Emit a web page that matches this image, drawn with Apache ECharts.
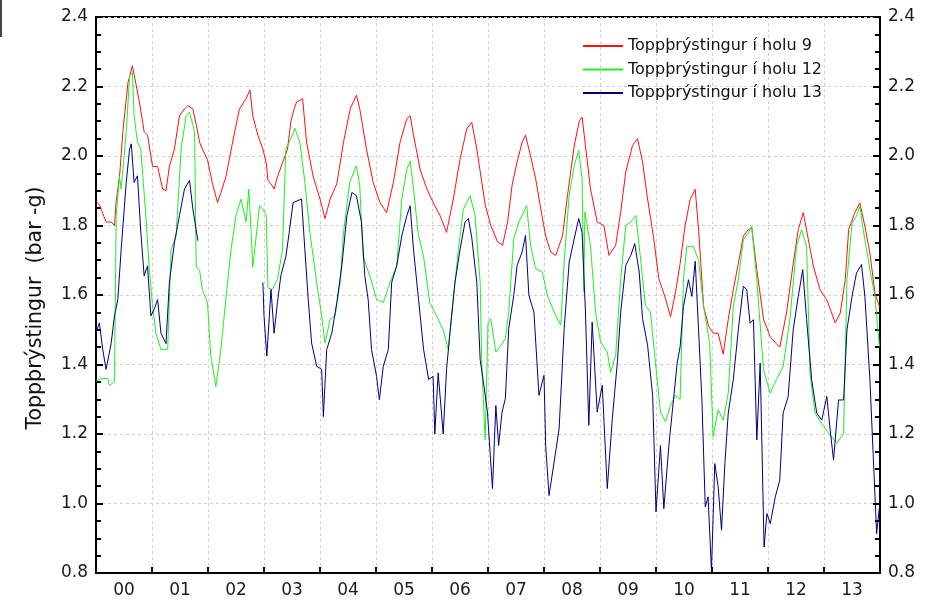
<!DOCTYPE html>
<html>
<head>
<meta charset="utf-8">
<script src="https://cdn.jsdelivr.net/npm/echarts@6/dist/echarts.min.js"></script>
<style>html,body{margin:0;padding:0;background:#fff}#c{width:936px;height:600px}</style>
</head>
<body>
<div id="c"></div>
<script>
// Time in years since start of 2000
const years = ["00","01","02","03","04","05","06","07","08","09","10","11","12","13"];
const yTicks = [0.8, 1.0, 1.2, 1.4, 1.6, 1.8, 2.0, 2.2, 2.4];
const seriesNames = ["Toppþrýstingur í holu 9", "Toppþrýstingur í holu 12", "Toppþrýstingur í holu 13"];

const redT = [0,0.06,0.18,0.27,0.33,0.36,0.42,0.48,0.57,0.65,0.71,0.77,0.86,0.92,1.01,1.10,1.19,1.25,1.31,1.40,1.49,1.58,1.64,1.73,1.79,1.85,1.90,1.99,2.08,2.17,2.23,2.32,2.44,2.56,2.68,2.75,2.80,2.89,2.98,3.04,3.07,3.125,3.18,3.24,3.33,3.42,3.48,3.54,3.58,3.64,3.69,3.76,3.88,4.00,4.09,4.18,4.30,4.42,4.54,4.65,4.71,4.83,4.95,5.07,5.19,5.31,5.43,5.55,5.61,5.67,5.79,5.91,6.02,6.14,6.26,6.38,6.50,6.62,6.71,6.80,6.89,6.95,7.05,7.17,7.26,7.35,7.43,7.52,7.61,7.67,7.76,7.85,7.94,8.03,8.12,8.21,8.33,8.42,8.54,8.63,8.68,8.74,8.83,8.95,9.07,9.16,9.28,9.37,9.46,9.58,9.67,9.76,9.84,9.96,10.05,10.17,10.26,10.35,10.43,10.52,10.61,10.70,10.76,10.85,10.94,11.02,11.11,11.20,11.29,11.38,11.47,11.56,11.65,11.71,11.80,11.92,12.04,12.15,12.21,12.33,12.45,12.54,12.63,12.72,12.81,12.93,13.05,13.20,13.29,13.38,13.44,13.55,13.64,13.73,13.82,13.91,13.99];
const redV = [1.87,1.86,1.81,1.81,1.80,1.87,1.94,2.07,2.21,2.26,2.21,2.16,2.07,2.06,1.97,1.97,1.905,1.90,1.97,2.02,2.115,2.135,2.145,2.135,2.09,2.04,2.02,1.99,1.92,1.866,1.895,1.94,2.04,2.135,2.165,2.19,2.115,2.06,2.02,1.98,1.93,1.92,1.905,1.94,1.98,2.02,2.10,2.136,2.155,2.16,2.165,2.04,1.94,1.876,1.82,1.876,1.92,2.04,2.136,2.175,2.136,2.02,1.924,1.866,1.837,1.924,2.04,2.107,2.116,2.06,1.96,1.905,1.866,1.83,1.78,1.876,1.99,2.078,2.097,2.02,1.924,1.86,1.80,1.753,1.743,1.81,1.916,1.983,2.04,2.06,2.0,1.935,1.85,1.77,1.724,1.714,1.77,1.887,2.03,2.10,2.112,2.03,1.906,1.81,1.80,1.714,1.743,1.84,1.954,2.03,2.05,1.983,1.887,1.762,1.647,1.59,1.537,1.61,1.69,1.80,1.875,1.904,1.79,1.567,1.51,1.49,1.49,1.43,1.53,1.615,1.69,1.77,1.788,1.793,1.673,1.53,1.48,1.46,1.45,1.548,1.69,1.788,1.837,1.76,1.683,1.615,1.586,1.52,1.548,1.644,1.788,1.837,1.865,1.798,1.72,1.606,1.567];

const greenT = [0,0.10,0.21,0.24,0.33,0.36,0.42,0.45,0.54,0.60,0.65,0.68,0.74,0.80,0.89,0.95,1.01,1.07,1.16,1.28,1.34,1.43,1.52,1.61,1.67,1.76,1.79,1.85,1.90,1.99,2.05,2.14,2.23,2.32,2.41,2.50,2.59,2.68,2.73,2.80,2.92,2.98,3.04,3.07,3.15,3.24,3.33,3.39,3.51,3.55,3.64,3.73,3.82,3.94,4.03,4.09,4.18,4.27,4.36,4.42,4.53,4.65,4.71,4.77,4.89,5.01,5.13,5.25,5.37,5.46,5.55,5.61,5.67,5.75,5.85,5.96,6.08,6.20,6.29,6.38,6.47,6.56,6.68,6.77,6.86,6.89,6.95,7.00,7.05,7.14,7.23,7.31,7.37,7.46,7.55,7.64,7.69,7.76,7.85,7.97,8.06,8.18,8.30,8.36,8.45,8.54,8.62,8.68,8.71,8.73,8.83,8.92,9.01,9.13,9.19,9.28,9.37,9.46,9.55,9.64,9.73,9.81,9.90,9.99,10.08,10.17,10.26,10.35,10.43,10.49,10.55,10.67,10.76,10.85,10.96,11.02,11.11,11.20,11.29,11.38,11.47,11.56,11.65,11.71,11.80,11.92,12.04,12.15,12.27,12.39,12.51,12.60,12.69,12.75,12.84,12.96,13.08,13.23,13.35,13.41,13.50,13.58,13.64,13.70,13.82,13.91,13.99];
const greenV = [1.352,1.36,1.36,1.34,1.35,1.83,1.94,1.905,2.07,2.23,2.24,2.116,2.04,2.02,1.828,1.68,1.568,1.49,1.443,1.443,1.73,1.77,2.02,2.116,2.126,2.07,1.68,1.67,1.616,1.578,1.424,1.337,1.443,1.59,1.73,1.828,1.876,1.81,1.905,1.68,1.857,1.847,1.83,1.62,1.616,1.645,1.73,2.02,2.06,2.08,2.04,1.924,1.78,1.636,1.54,1.462,1.53,1.54,1.636,1.78,1.924,1.972,1.914,1.71,1.655,1.588,1.578,1.636,1.684,1.876,1.962,1.986,1.905,1.78,1.71,1.578,1.54,1.50,1.443,1.588,1.73,1.847,1.886,1.828,1.636,1.395,1.184,1.52,1.532,1.436,1.455,1.474,1.551,1.762,1.81,1.839,1.858,1.743,1.676,1.666,1.599,1.551,1.513,1.695,1.887,1.973,2.016,1.935,1.609,1.839,1.743,1.551,1.465,1.436,1.378,1.426,1.647,1.80,1.81,1.829,1.695,1.57,1.551,1.407,1.263,1.235,1.283,1.311,1.30,1.644,1.74,1.74,1.70,1.567,1.46,1.192,1.27,1.24,1.317,1.567,1.644,1.76,1.779,1.798,1.644,1.385,1.317,1.356,1.394,1.529,1.74,1.788,1.74,1.375,1.26,1.23,1.202,1.173,1.202,1.644,1.808,1.827,1.856,1.788,1.673,1.596,1.452];

const blueT = [0,0.06,0.12,0.18,0.27,0.33,0.39,0.45,0.54,0.60,0.63,0.68,0.74,0.80,0.86,0.92,0.98,1.04,1.10,1.16,1.25,1.31,1.40,1.49,1.58,1.67,1.73,1.82,2.40,2.98,3.00,3.05,3.125,3.18,3.24,3.30,3.39,3.45,3.52,3.67,3.73,3.79,3.85,3.94,4.03,4.06,4.12,4.21,4.30,4.39,4.48,4.57,4.65,4.74,4.80,4.86,4.92,5.01,5.06,5.13,5.22,5.28,5.37,5.46,5.55,5.61,5.67,5.76,5.85,5.94,6.02,6.05,6.11,6.20,6.26,6.32,6.41,6.50,6.59,6.65,6.71,6.80,6.86,6.92,6.99,7.08,7.14,7.19,7.25,7.31,7.37,7.46,7.52,7.61,7.67,7.73,7.82,7.91,8.00,8.03,8.09,8.18,8.27,8.36,8.45,8.54,8.62,8.68,8.74,8.80,8.86,8.95,9.04,9.13,9.22,9.31,9.37,9.46,9.55,9.62,9.70,9.76,9.85,9.94,10.00,10.08,10.14,10.23,10.29,10.38,10.43,10.49,10.58,10.64,10.70,10.76,10.82,10.88,10.93,10.99,11.05,11.11,11.17,11.23,11.29,11.38,11.47,11.56,11.62,11.68,11.74,11.80,11.86,11.93,11.98,12.04,12.13,12.21,12.27,12.36,12.45,12.54,12.62,12.69,12.78,12.87,12.96,13.05,13.11,13.17,13.26,13.35,13.41,13.50,13.58,13.67,13.73,13.82,13.88,13.94,13.99];
const blueV = [1.491,1.52,1.443,1.386,1.46,1.54,1.587,1.732,1.924,2.02,2.035,1.924,1.943,1.78,1.655,1.684,1.54,1.559,1.587,1.49,1.46,1.636,1.75,1.828,1.905,1.93,1.847,1.756,'-',1.636,1.54,1.424,1.616,1.49,1.578,1.655,1.71,1.78,1.866,1.876,1.73,1.587,1.462,1.395,1.386,1.25,1.443,1.49,1.578,1.684,1.828,1.895,1.886,1.81,1.655,1.587,1.443,1.366,1.299,1.395,1.443,1.636,1.684,1.77,1.828,1.857,1.73,1.587,1.443,1.357,1.366,1.20,1.376,1.20,1.386,1.49,1.636,1.73,1.81,1.82,1.765,1.636,1.414,1.347,1.263,1.043,1.282,1.167,1.263,1.302,1.503,1.599,1.685,1.724,1.772,1.599,1.551,1.311,1.369,1.167,1.023,1.119,1.215,1.503,1.695,1.762,1.82,1.78,1.551,1.225,1.522,1.263,1.34,1.043,1.244,1.407,1.551,1.685,1.714,1.748,1.666,1.532,1.455,1.311,0.976,1.167,0.985,1.167,1.263,1.407,1.45,1.567,1.644,1.596,1.697,1.50,1.298,0.99,1.019,0.808,1.115,1.048,0.923,1.115,1.26,1.356,1.50,1.625,1.615,1.519,1.529,1.183,1.404,0.875,0.971,0.942,1.019,1.067,1.26,1.308,1.50,1.596,1.673,1.529,1.356,1.26,1.24,1.308,1.212,1.125,1.298,1.298,1.50,1.596,1.663,1.688,1.596,1.356,1.135,0.913,0.99];

const colors = ["#ff1010", "#22ee22", "#00007f"];
const FONT = "DejaVu Sans, Liberation Sans, Arial, sans-serif";

function pairs(t, v) { return t.map((x, i) => [x, v[i]]); }

const chart = echarts.init(document.getElementById('c'), null, {renderer: 'canvas'});
const yCommon = {
  type: 'value', min: yTicks[0], max: yTicks[yTicks.length - 1], interval: 0.2,
  axisLine: {show: true, lineStyle: {color: '#000', width: 2}},
  axisTick: {show: true, inside: true, length: 7, lineStyle: {color: '#000', width: 2}},
  minorTick: {show: true, splitNumber: 4, length: 5, lineStyle: {color: '#000', width: 2}},
  axisLabel: {fontFamily: FONT, fontSize: 17, color: '#1a1a1a', margin: 8, formatter: v => v.toFixed(1)}
};
chart.setOption({
  animation: false,
  backgroundColor: '#fff',
  grid: {left: 96, right: 56, top: 17, bottom: 27, show: true, borderColor: '#000', borderWidth: 2, backgroundColor: 'transparent'},
  legend: {
    orient: 'vertical', left: 583, top: 38, padding: 0, itemWidth: 40, itemHeight: 2, itemGap: 7.5,
    icon: 'rect',
    textStyle: {fontFamily: FONT, fontSize: 16, color: '#111'},
    data: seriesNames
  },
  xAxis: [
    {type: 'value', min: 0, max: years.length, interval: 1, position: 'bottom',
     axisLine: {show: true, onZero: false, lineStyle: {color: '#000', width: 2}},
     axisTick: {show: true, inside: true, length: 6, lineStyle: {color: '#000', width: 2}},
     axisLabel: {show: false},
     splitLine: {show: true, lineStyle: {color: '#cfcfcf', type: [3, 3], width: 1}}},
    {type: 'category', data: years, boundaryGap: true, position: 'bottom',
     axisLine: {show: false}, axisTick: {show: false}, splitLine: {show: false},
     axisLabel: {fontFamily: FONT, fontSize: 17, color: '#1a1a1a', margin: 9}}
  ],
  yAxis: [
    Object.assign({}, yCommon, {position: 'left',
      splitLine: {show: true, lineStyle: {color: '#cfcfcf', type: [3, 3], width: 1}}}),
    Object.assign({}, yCommon, {position: 'right', splitLine: {show: false}})
  ],
  graphic: [
    {type: 'rect', left: 0, top: 0, shape: {width: 2, height: 37}, style: {fill: '#444'}},
    {type: 'text', x: 36, y: 308, rotation: Math.PI / 2,
     style: {text: 'Toppþrýstingur  (bar -g)', font: '20.5px ' + FONT, fill: '#111', align: 'center', verticalAlign: 'middle'}}
  ],
  series: [
    {name: seriesNames[0], type: 'line', xAxisIndex: 0, yAxisIndex: 0, data: pairs(redT, redV), showSymbol: false, symbol: 'none', lineStyle: {color: colors[0], width: 1}, itemStyle: {color: colors[0]}, connectNulls: false},
    {name: seriesNames[1], type: 'line', xAxisIndex: 0, yAxisIndex: 0, data: pairs(greenT, greenV), showSymbol: false, symbol: 'none', lineStyle: {color: colors[1], width: 1}, itemStyle: {color: colors[1]}, connectNulls: false},
    {name: seriesNames[2], type: 'line', xAxisIndex: 0, yAxisIndex: 0, data: pairs(blueT, blueV), showSymbol: false, symbol: 'none', lineStyle: {color: colors[2], width: 1}, itemStyle: {color: colors[2]}, connectNulls: false}
  ]
});
</script>
</body>
</html>
